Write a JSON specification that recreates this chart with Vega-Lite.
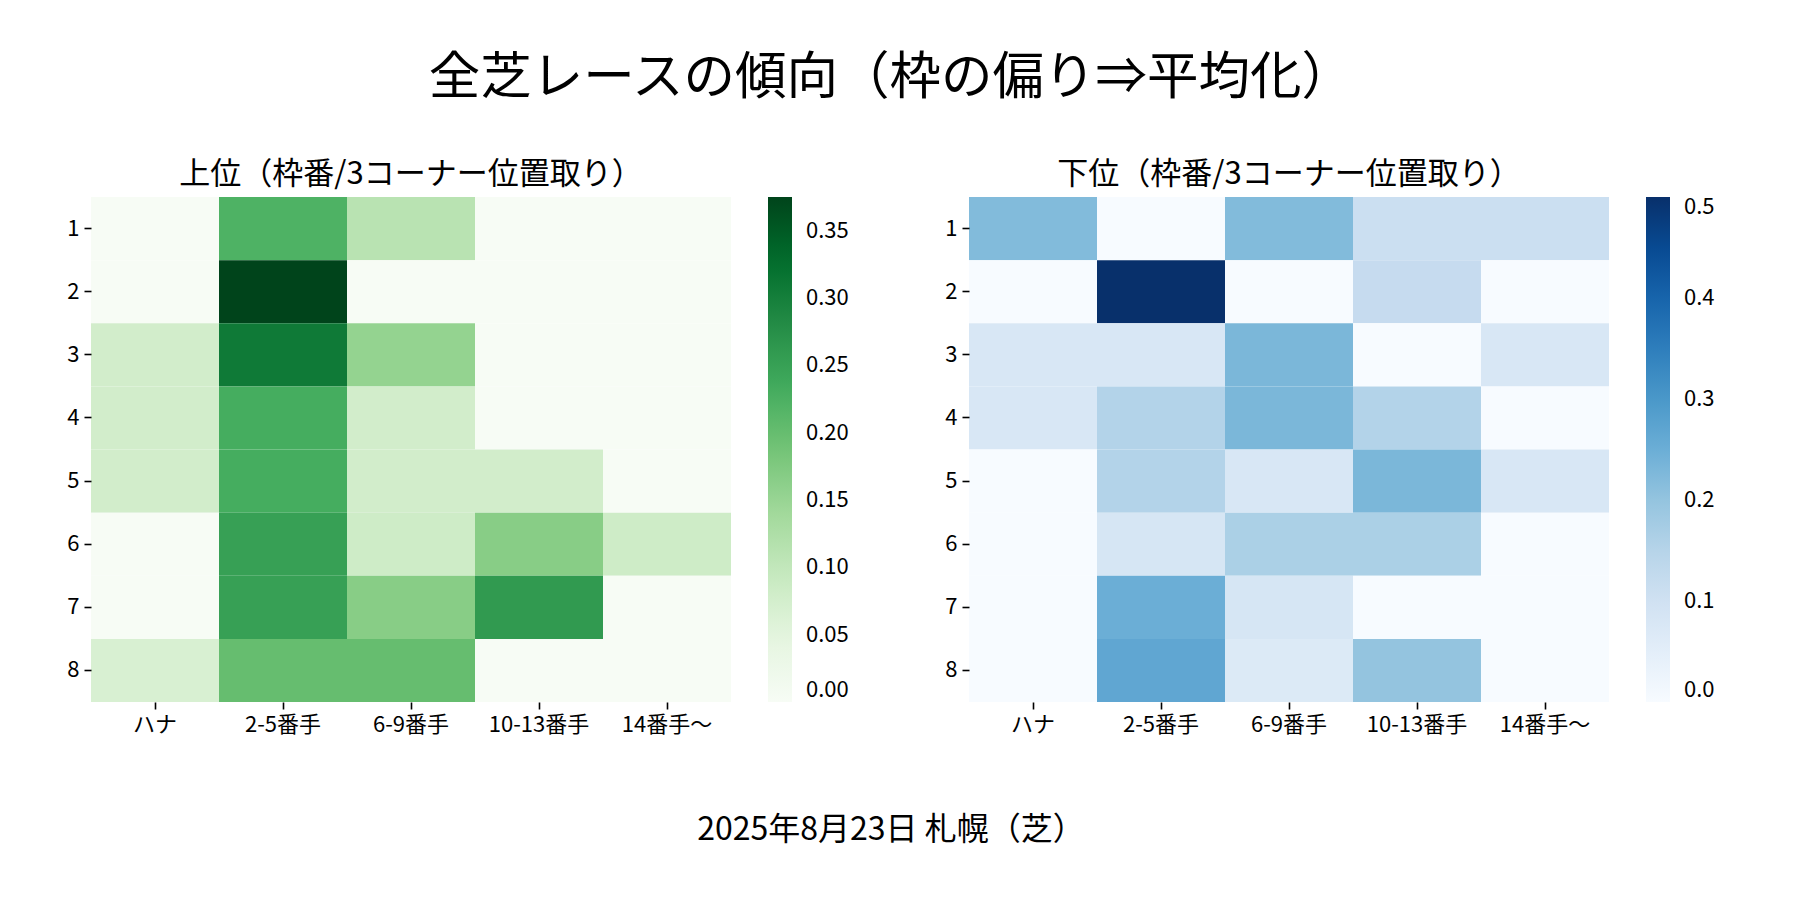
{
  "$schema": "https://vega.github.io/schema/vega-lite/v6.json",
  "background": "white",
  "padding": {"left": 66, "top": 52, "right": 0, "bottom": 0},
  "config": {
    "font": "Noto Sans CJK JP",
    "view": {"stroke": null},
    "axis": {"labelFontSize": 22, "labelColor": "#000", "tickColor": "#000", "tickSize": 7, "tickWidth": 1.6, "domain": false, "grid": false, "title": null, "labelPadding": 5},
    "legend": {"labelFontSize": 22, "labelColor": "#000", "padding": 0},
    "title": {"fontWeight": "normal", "color": "#000"}
  },
  "datasets": {
    "upper": [
      {"gate": 1, "position": "ハナ", "rate": 0}, {"gate": 1, "position": "2-5番手", "rate": 0.222}, {"gate": 1, "position": "6-9番手", "rate": 0.111}, {"gate": 1, "position": "10-13番手", "rate": 0}, {"gate": 1, "position": "14番手〜", "rate": 0},
      {"gate": 2, "position": "ハナ", "rate": 0}, {"gate": 2, "position": "2-5番手", "rate": 0.375}, {"gate": 2, "position": "6-9番手", "rate": 0}, {"gate": 2, "position": "10-13番手", "rate": 0}, {"gate": 2, "position": "14番手〜", "rate": 0},
      {"gate": 3, "position": "ハナ", "rate": 0.077}, {"gate": 3, "position": "2-5番手", "rate": 0.308}, {"gate": 3, "position": "6-9番手", "rate": 0.154}, {"gate": 3, "position": "10-13番手", "rate": 0}, {"gate": 3, "position": "14番手〜", "rate": 0},
      {"gate": 4, "position": "ハナ", "rate": 0.077}, {"gate": 4, "position": "2-5番手", "rate": 0.231}, {"gate": 4, "position": "6-9番手", "rate": 0.077}, {"gate": 4, "position": "10-13番手", "rate": 0}, {"gate": 4, "position": "14番手〜", "rate": 0},
      {"gate": 5, "position": "ハナ", "rate": 0.077}, {"gate": 5, "position": "2-5番手", "rate": 0.231}, {"gate": 5, "position": "6-9番手", "rate": 0.077}, {"gate": 5, "position": "10-13番手", "rate": 0.077}, {"gate": 5, "position": "14番手〜", "rate": 0},
      {"gate": 6, "position": "ハナ", "rate": 0}, {"gate": 6, "position": "2-5番手", "rate": 0.25}, {"gate": 6, "position": "6-9番手", "rate": 0.083}, {"gate": 6, "position": "10-13番手", "rate": 0.167}, {"gate": 6, "position": "14番手〜", "rate": 0.083},
      {"gate": 7, "position": "ハナ", "rate": 0}, {"gate": 7, "position": "2-5番手", "rate": 0.25}, {"gate": 7, "position": "6-9番手", "rate": 0.167}, {"gate": 7, "position": "10-13番手", "rate": 0.26}, {"gate": 7, "position": "14番手〜", "rate": 0},
      {"gate": 8, "position": "ハナ", "rate": 0.067}, {"gate": 8, "position": "2-5番手", "rate": 0.2}, {"gate": 8, "position": "6-9番手", "rate": 0.2}, {"gate": 8, "position": "10-13番手", "rate": 0}, {"gate": 8, "position": "14番手〜", "rate": 0}
    ],
    "lower": [
      {"gate": 1, "position": "ハナ", "rate": 0.222}, {"gate": 1, "position": "2-5番手", "rate": 0}, {"gate": 1, "position": "6-9番手", "rate": 0.222}, {"gate": 1, "position": "10-13番手", "rate": 0.111}, {"gate": 1, "position": "14番手〜", "rate": 0.111},
      {"gate": 2, "position": "ハナ", "rate": 0}, {"gate": 2, "position": "2-5番手", "rate": 0.5}, {"gate": 2, "position": "6-9番手", "rate": 0}, {"gate": 2, "position": "10-13番手", "rate": 0.125}, {"gate": 2, "position": "14番手〜", "rate": 0},
      {"gate": 3, "position": "ハナ", "rate": 0.077}, {"gate": 3, "position": "2-5番手", "rate": 0.077}, {"gate": 3, "position": "6-9番手", "rate": 0.231}, {"gate": 3, "position": "10-13番手", "rate": 0}, {"gate": 3, "position": "14番手〜", "rate": 0.077},
      {"gate": 4, "position": "ハナ", "rate": 0.077}, {"gate": 4, "position": "2-5番手", "rate": 0.154}, {"gate": 4, "position": "6-9番手", "rate": 0.231}, {"gate": 4, "position": "10-13番手", "rate": 0.154}, {"gate": 4, "position": "14番手〜", "rate": 0},
      {"gate": 5, "position": "ハナ", "rate": 0}, {"gate": 5, "position": "2-5番手", "rate": 0.154}, {"gate": 5, "position": "6-9番手", "rate": 0.077}, {"gate": 5, "position": "10-13番手", "rate": 0.231}, {"gate": 5, "position": "14番手〜", "rate": 0.077},
      {"gate": 6, "position": "ハナ", "rate": 0}, {"gate": 6, "position": "2-5番手", "rate": 0.083}, {"gate": 6, "position": "6-9番手", "rate": 0.167}, {"gate": 6, "position": "10-13番手", "rate": 0.167}, {"gate": 6, "position": "14番手〜", "rate": 0},
      {"gate": 7, "position": "ハナ", "rate": 0}, {"gate": 7, "position": "2-5番手", "rate": 0.25}, {"gate": 7, "position": "6-9番手", "rate": 0.083}, {"gate": 7, "position": "10-13番手", "rate": 0}, {"gate": 7, "position": "14番手〜", "rate": 0},
      {"gate": 8, "position": "ハナ", "rate": 0}, {"gate": 8, "position": "2-5番手", "rate": 0.267}, {"gate": 8, "position": "6-9番手", "rate": 0.067}, {"gate": 8, "position": "10-13番手", "rate": 0.2}, {"gate": 8, "position": "14番手〜", "rate": 0}
    ]
  },
  "title": {"text": "全芝レースの傾向（枠の偏り⇒平均化）", "fontSize": 51.5, "offset": 55, "anchor": "middle"},
  "vconcat": [
    {
      "title": {"text": "2025年8月23日 札幌（芝）", "orient": "bottom", "fontSize": 32, "offset": 80, "anchor": "middle"},
      "spacing": 95,
      "resolve": {"scale": {"color": "independent"}},
      "hconcat": [
        {
          "data": {"name": "upper"},
          "width": 640,
          "height": 505,
          "title": {"text": "上位（枠番/3コーナー位置取り）", "fontSize": 31, "frame": "group", "offset": 6},
          "mark": {"type": "rect"},
          "encoding": {
            "x": {"field": "position", "type": "nominal", "sort": ["ハナ", "2-5番手", "6-9番手", "10-13番手", "14番手〜"], "axis": {"labelAngle": 0}},
            "y": {"field": "gate", "type": "ordinal", "sort": "ascending"},
            "color": {
              "field": "rate", "type": "quantitative",
              "scale": {
                "domain": [0, 0.046875, 0.09375, 0.140625, 0.1875, 0.234375, 0.28125, 0.328125, 0.375],
                "range": ["#f7fcf5", "#e5f5e0", "#c7e9c0", "#a1d99b", "#74c476", "#41ab5d", "#238b45", "#006d2c", "#00441b"],
                "interpolate": "rgb"
              },
              "legend": {"title": null, "orient": "right", "offset": 37, "gradientLength": 505, "gradientThickness": 24, "gradientStrokeWidth": 0, "values": [0, 0.05, 0.1, 0.15, 0.2, 0.25, 0.3, 0.35], "format": ".2f", "labelOffset": 14}
            }
          }
        },
        {
          "data": {"name": "lower"},
          "width": 640,
          "height": 505,
          "title": {"text": "下位（枠番/3コーナー位置取り）", "fontSize": 31, "frame": "group", "offset": 6},
          "mark": {"type": "rect"},
          "encoding": {
            "x": {"field": "position", "type": "nominal", "sort": ["ハナ", "2-5番手", "6-9番手", "10-13番手", "14番手〜"], "axis": {"labelAngle": 0}},
            "y": {"field": "gate", "type": "ordinal", "sort": "ascending"},
            "color": {
              "field": "rate", "type": "quantitative",
              "scale": {
                "domain": [0, 0.0625, 0.125, 0.1875, 0.25, 0.3125, 0.375, 0.4375, 0.5],
                "range": ["#f7fbff", "#deebf7", "#c6dbef", "#9ecae1", "#6baed6", "#4292c6", "#2171b5", "#08519c", "#08306b"],
                "interpolate": "rgb"
              },
              "legend": {"title": null, "orient": "right", "offset": 37, "gradientLength": 505, "gradientThickness": 24, "gradientStrokeWidth": 0, "values": [0, 0.1, 0.2, 0.3, 0.4, 0.5], "format": ".1f", "labelOffset": 14}
            }
          }
        }
      ]
    }
  ]
}
